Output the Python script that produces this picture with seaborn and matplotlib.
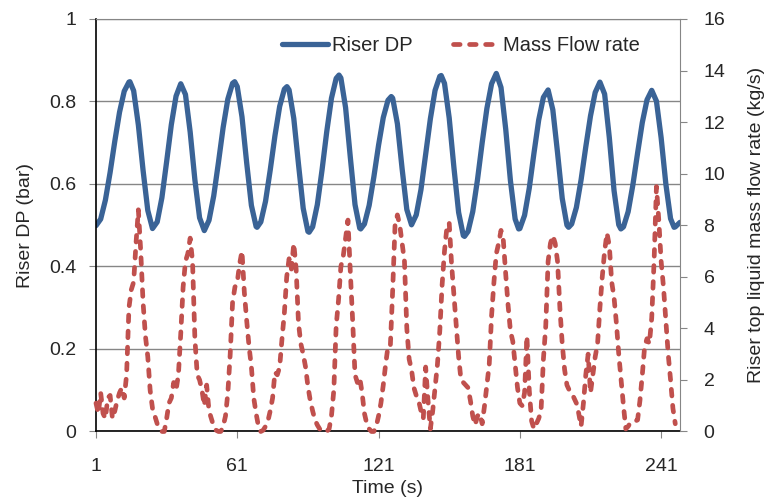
import pandas as pd
import matplotlib.pyplot as plt
import seaborn as sns
from matplotlib.lines import Line2D

# Riser DP (bar): tempos (a cada ~2 s, mais picos e vales)
dp_time = [1, 3, 5, 7, 9, 11, 13, 15, 15.4, 17, 19, 21, 23, 25,
           27, 29, 31, 33, 35, 37, 39, 41, 43, 45, 47,
           49, 51, 53, 55, 57, 59, 59.9, 61, 63, 65, 67, 69, 69.4,
           71, 73, 75, 77, 79, 81, 82.1, 83, 85, 87, 89, 91, 91.5,
           93, 95, 97, 99, 101, 103, 104.2, 105, 107, 109, 111, 113, 113.4,
           115, 117, 119, 121, 123, 125, 126.4, 127, 129, 131, 133, 135,
           137, 139, 141, 143, 145, 147, 147.6, 149, 151, 153, 155, 157, 157.5,
           159, 161, 163, 165, 167, 169, 171, 173, 175, 177, 179, 180.5,
           181, 183, 185, 187, 189, 191, 193, 195, 197, 199, 201, 201.7,
           203, 205, 207, 209, 211, 213, 215, 217, 219, 221, 223, 223.9,
           225, 227, 229, 231, 233, 235, 237, 239, 241, 243, 245, 246.5, 247, 249]
dp_bar = [0.499, 0.515, 0.561, 0.628, 0.704, 0.774, 0.825, 0.847, 0.848, 0.826, 0.743, 0.633, 0.536, 0.492,
          0.508, 0.567, 0.654, 0.744, 0.813, 0.843, 0.817, 0.726, 0.610, 0.518, 0.487,
          0.512, 0.571, 0.652, 0.737, 0.806, 0.844, 0.848, 0.836, 0.763, 0.651, 0.548, 0.497, 0.495,
          0.508, 0.558, 0.634, 0.717, 0.788, 0.830, 0.836, 0.828, 0.759, 0.648, 0.541, 0.485, 0.483,
          0.496, 0.550, 0.634, 0.727, 0.808, 0.856, 0.864, 0.857, 0.785, 0.665, 0.550, 0.493, 0.491,
          0.503, 0.548, 0.617, 0.694, 0.761, 0.803, 0.812, 0.808, 0.746, 0.637, 0.538, 0.501,
          0.525, 0.586, 0.671, 0.758, 0.827, 0.861, 0.863, 0.844, 0.760, 0.640, 0.531, 0.475, 0.473,
          0.485, 0.533, 0.610, 0.700, 0.783, 0.843, 0.868, 0.834, 0.733, 0.608, 0.515, 0.491,
          0.492, 0.524, 0.590, 0.675, 0.755, 0.810, 0.828, 0.780, 0.676, 0.565, 0.500, 0.495,
          0.503, 0.543, 0.610, 0.690, 0.765, 0.822, 0.847, 0.818, 0.712, 0.584, 0.501, 0.491,
          0.496, 0.533, 0.598, 0.675, 0.749, 0.804, 0.827, 0.801, 0.712, 0.600, 0.516, 0.495, 0.496, 0.507]

# vazao massica de liquido no topo do riser (kg/s), t = 1 .. 247
mass_flow = [1.1, 0.7, 1.5, 0.7, 0.5, 1.3, 1.4, 0.5, 0.8, 1.2,
             1.5, 1.7, 1.3, 2.2, 4.8, 5.5, 5.8, 7.3, 8.6, 7.0,
             5.0, 3.7, 2.9, 1.6, 0.9, 0.6, 0.3, 0.1, 0.0, 0.0,
             0.5, 1.1, 1.3, 1.9, 1.6, 2.2, 3.8, 5.6, 6.6, 6.9,
             7.5, 6.6, 3.6, 2.2, 2.0, 1.6, 1.0, 1.8, 0.8, 0.5,
             0.2, 0.05, 0.0, 0.0, 0.2, 0.6, 1.5, 3.0, 5.0, 5.6,
             5.8, 6.5, 7.0, 5.4, 4.3, 3.3, 2.5, 1.3, 0.7, 0.2,
             0.0, 0.05, 0.2, 0.4, 0.8, 1.3, 2.3, 2.2, 2.5, 3.6,
             4.6, 6.0, 6.7, 6.3, 7.3, 6.3, 4.2, 3.4, 3.0, 2.5,
             1.75, 1.2, 0.8, 0.45, 0.25, 0.1, 0.0, 0.0, 0.0, 0.1,
             0.6, 1.6, 4.1, 5.1, 6.4, 6.8, 7.5, 8.2, 6.2, 4.3,
             2.2, 1.9, 2.1, 1.5, 0.7, 0.3, 0.1, 0.0, 0.0, 0.2,
             0.6, 1.1, 1.8, 2.6, 3.3, 3.3, 5.5, 8.0, 8.4, 8.0,
             7.3, 6.6, 4.0, 2.8, 2.4, 1.7, 1.4, 1.2, 0.8, 0.5,
             2.5, 1.2, 0.1, 0.8, 1.7, 2.6, 3.9, 5.7, 7.0, 7.9,
             8.1, 6.5, 5.3, 4.1, 2.9, 2.0, 1.9, 1.8, 1.7, 1.2,
             0.6, 0.25, 0.6, 0.7, 0.3, 1.0, 1.8, 2.6, 4.5, 5.8,
             6.9, 7.3, 7.8, 7.4, 6.1, 4.9, 3.9, 3.5, 2.6, 1.7,
             1.1, 1.0, 1.5, 3.7, 1.6, 0.4, 0.1, 0.3, 0.5, 0.8,
             2.8, 4.1, 6.6, 7.3, 7.6, 7.3, 6.6, 4.8, 3.4, 2.4,
             1.8, 1.6, 1.5, 1.3, 1.1, 0.7, 0.2, 1.1, 2.2, 3.0,
             1.5, 2.2, 2.9, 3.4, 4.8, 6.0, 7.0, 7.7, 7.2, 5.8,
             5.2, 4.2, 3.0, 2.0, 1.0, 0.1, 0.2, 0.35, 0.4, 0.4,
             0.45, 1.2, 2.2, 3.3, 3.6, 3.4, 4.4, 6.6, 9.5, 8.2,
             6.6, 5.6, 4.3, 3.0, 2.0, 0.9, 0.3]
mf_time = list(range(1, len(mass_flow) + 1))

x_ticks = [1, 61, 121, 181, 241]
dp_ticks = [0, 0.2, 0.4, 0.6, 0.8, 1]
dp_labels = ['0', '0.2', '0.4', '0.6', '0.8', '1']
mf_ticks = [0, 2, 4, 6, 8, 10, 12, 14, 16]

sns.set_style('white')
plt.rcParams['font.family'] = ['Liberation Sans', 'DejaVu Sans']

azul = '#3A6396'
vermelho = '#C0504D'
cinza = '#868686'
tracos = (0, (1.4, 2.0))

df_dp = pd.DataFrame({'Tempo': dp_time, 'DP': dp_bar})
df_mf = pd.DataFrame({'Tempo': mf_time, 'Vazao': mass_flow})

fig = plt.figure(figsize=(7.66, 4.97), dpi=100)
ax = fig.add_axes([0.1253, 0.1318, 0.7624, 0.830])
ax2 = ax.twinx()

sns.lineplot(data=df_dp, x='Tempo', y='DP', ax=ax, color=azul, lw=3.8,
             solid_capstyle='round', solid_joinstyle='round')
sns.lineplot(data=df_mf, x='Tempo', y='Vazao', ax=ax2, color=vermelho, lw=3.4,
             linestyle=tracos, dash_capstyle='round', clip_on=False)

ax.set_xlim(1, 249)
ax.set_ylim(0, 1)
ax2.set_ylim(0, 16)
ax.set_xticks(x_ticks)
ax.set_yticks(dp_ticks)
ax.set_yticklabels(dp_labels)
ax2.set_yticks(mf_ticks)

ax.yaxis.grid(True, color=cinza, lw=1)
ax.xaxis.grid(False)
ax2.grid(False)

for s in ['left', 'bottom']:
    ax.spines[s].set_color('black')
    ax.spines[s].set_linewidth(1.2)
ax.spines['top'].set_color(cinza)
ax.spines['right'].set_visible(False)
for s in ['left', 'bottom', 'top']:
    ax2.spines[s].set_visible(False)
ax2.spines['right'].set_color(cinza)

ax.tick_params(axis='y', direction='out', length=5, color=cinza, pad=9, labelsize=14, left=True)
ax.tick_params(axis='x', direction='out', length=5, color=cinza, pad=14, labelsize=14, bottom=True)
ax2.tick_params(axis='y', direction='out', length=5, color=cinza, pad=12, labelsize=14, right=True)

ax.set_xlabel('Time (s)', fontsize=14, labelpad=4)
ax.set_ylabel('Riser DP (bar)', fontsize=14, labelpad=11)
ax2.set_ylabel('Riser top liquid mass flow rate (kg/s)', fontsize=14, labelpad=16)

handles = [Line2D([], [], color=azul, lw=3.8),
           Line2D([], [], color=vermelho, lw=3.4, linestyle=tracos, dash_capstyle='round')]
ax2.legend(handles, ['Riser DP', 'Mass Flow rate'], ncol=2, frameon=False, fontsize=14.5,
           loc='center left', bbox_to_anchor=(0.318, 0.936), borderaxespad=0, borderpad=0,
           handlelength=2.3, handletextpad=0.2, columnspacing=2.0)

plt.savefig('out.png', dpi=100)
